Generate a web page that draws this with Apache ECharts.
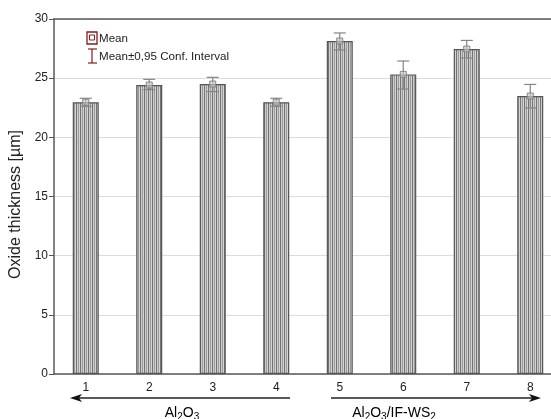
<!DOCTYPE html>
<html>
<head>
<meta charset="utf-8">
<script src="https://cdn.jsdelivr.net/npm/echarts@6/dist/echarts.min.js"></script>
<style>
  html, body { margin: 0; padding: 0; background: #fff; }
  #chart { width: 551px; height: 419px; }
</style>
</head>
<body>
<div id="chart"></div>
<script>
// --- valeurs --- //
const categories = ['1', '2', '3', '4', '5', '6', '7', '8'];
const means = [22.97, 24.42, 24.5, 22.97, 28.14, 25.32, 27.46, 23.49];
const ciLow = [22.62, 24.03, 23.87, 22.62, 27.38, 24.08, 26.7, 22.48];
const ciHigh = [23.3, 24.9, 25.07, 23.3, 28.82, 26.45, 28.19, 24.47];
const yTicks = [0, 5, 10, 15, 20, 25, 30];

// motif à rayures verticales pour les barres
function stripes() {
  const c = document.createElement('canvas');
  c.width = 4;
  c.height = 4;
  const ctx = c.getContext('2d');
  const cols = ['#747474', '#cccccc', '#9c9c9c', '#d4d4d4'];
  cols.forEach((col, i) => {
    ctx.fillStyle = col;
    ctx.fillRect(i, 0, 1, 4);
  });
  return c;
}

const errData = categories.map((c, i) => [i, ciLow[i], ciHigh[i], means[i]]);

function renderError(params, api) {
  const x = api.value(0);
  const pLo = api.coord([x, api.value(1)]);
  const pHi = api.coord([x, api.value(2)]);
  const pM = api.coord([x, api.value(3)]);
  const hw = 6;
  const st = { stroke: '#858585', lineWidth: 1.2 };
  return {
    type: 'group',
    children: [
      { type: 'line', shape: { x1: pLo[0], y1: pLo[1], x2: pHi[0], y2: pHi[1] }, style: st },
      { type: 'line', shape: { x1: pHi[0] - hw, y1: pHi[1], x2: pHi[0] + hw, y2: pHi[1] }, style: st },
      { type: 'line', shape: { x1: pLo[0] - hw, y1: pLo[1], x2: pLo[0] + hw, y2: pLo[1] }, style: st },
      { type: 'rect', shape: { x: pM[0] - 3, y: pM[1] - 3, width: 6, height: 6 },
        style: { stroke: '#858585', fill: 'rgba(200,200,200,0.6)', lineWidth: 1 } }
    ]
  };
}

const subRich = {
  n: { fontSize: 14, lineHeight: 18, color: '#222', fontFamily: 'Liberation Sans' },
  s: { fontSize: 10, lineHeight: 10, color: '#222', fontFamily: 'Liberation Sans', verticalAlign: 'bottom' }
};

const axisCol = '#5a5a5a';

const option = {
  animation: false,
  backgroundColor: '#fff',
  textStyle: { fontFamily: 'Liberation Sans' },
  grid: { left: 54, top: 19, width: 508, height: 355, outerBoundsMode: 'none' },
  xAxis: [
    {
      type: 'category',
      data: categories,
      axisLine: { lineStyle: { color: axisCol, width: 1.5 } },
      axisTick: { inside: true, length: 4, alignWithLabel: true, lineStyle: { color: '#333' } },
      axisLabel: { color: '#222', fontSize: 12, margin: 8 },
      splitLine: { show: false }
    },
    {
      type: 'category',
      position: 'top',
      data: categories,
      axisLine: { lineStyle: { color: axisCol, width: 1.5 } },
      axisTick: { inside: true, length: 4, alignWithLabel: true, lineStyle: { color: '#333' } },
      axisLabel: { show: false }
    }
  ],
  yAxis: {
    type: 'value',
    min: yTicks[0],
    max: yTicks[yTicks.length - 1],
    interval: 5,
    name: 'Oxide thickness [µm]',
    nameLocation: 'middle',
    nameGap: 30,
    nameTextStyle: { fontSize: 16, color: '#222', fontFamily: 'Liberation Sans', padding: [0, 16, 0, 0] },
    axisLine: { show: true, lineStyle: { color: axisCol, width: 1.5 } },
    axisTick: { show: true, length: 5, lineStyle: { color: '#555' } },
    axisLabel: { color: '#222', fontSize: 12, margin: 6 },
    splitLine: { lineStyle: { color: '#dcdcdc', width: 1 } }
  },
  series: [
    {
      type: 'bar',
      data: means,
      barWidth: 26,
      itemStyle: {
        color: { image: stripes(), repeat: 'repeat' },
        borderColor: '#555',
        borderWidth: 1.2
      }
    },
    {
      type: 'custom',
      renderItem: renderError,
      data: errData,
      z: 5
    }
  ],
  graphic: [
    // légende
    { type: 'rect', shape: { x: 87, y: 32, width: 10, height: 12 },
      style: { fill: 'none', stroke: '#8b1a1a', lineWidth: 1.3 } },
    { type: 'rect', shape: { x: 89.5, y: 35, width: 5, height: 5 },
      style: { fill: 'none', stroke: '#8b1a1a', lineWidth: 1 } },
    { type: 'text', left: 99, top: 33,
      style: { text: 'Mean', fontSize: 11.6, fill: '#222', fontFamily: 'Liberation Sans' } },
    { type: 'line', shape: { x1: 92, y1: 49, x2: 92, y2: 63 }, style: { stroke: '#8b1a1a', lineWidth: 1.2 } },
    { type: 'line', shape: { x1: 88, y1: 49, x2: 97, y2: 49 }, style: { stroke: '#8b1a1a', lineWidth: 1.2 } },
    { type: 'line', shape: { x1: 88, y1: 63, x2: 97, y2: 63 }, style: { stroke: '#8b1a1a', lineWidth: 1.2 } },
    { type: 'text', left: 99, top: 51,
      style: { text: 'Mean±0,95 Conf. Interval', fontSize: 11.6, fill: '#222', fontFamily: 'Liberation Sans' } },
    // flèches des groupes
    { type: 'line', shape: { x1: 78, y1: 398, x2: 290, y2: 398 }, style: { stroke: '#222', lineWidth: 1.3 } },
    { type: 'polygon', shape: { points: [[70, 398], [82, 394], [79, 398], [82, 402]] }, style: { fill: '#111' } },
    { type: 'line', shape: { x1: 331, y1: 398, x2: 532, y2: 398 }, style: { stroke: '#222', lineWidth: 1.3 } },
    { type: 'polygon', shape: { points: [[541, 398], [529, 394], [532, 398], [529, 402]] }, style: { fill: '#111' } },
    { type: 'text', x: 182, y: 413,
      style: { text: '{n|Al}{s|2}{n|O}{s|3}', rich: subRich, align: 'center', verticalAlign: 'middle' } },
    { type: 'text', x: 394, y: 413,
      style: { text: '{n|Al}{s|2}{n|O}{s|3}{n|/IF-WS}{s|2}', rich: subRich, align: 'center', verticalAlign: 'middle' } }
  ]
};

const chart = echarts.init(document.getElementById('chart'));
chart.setOption(option);
</script>
</body>
</html>
